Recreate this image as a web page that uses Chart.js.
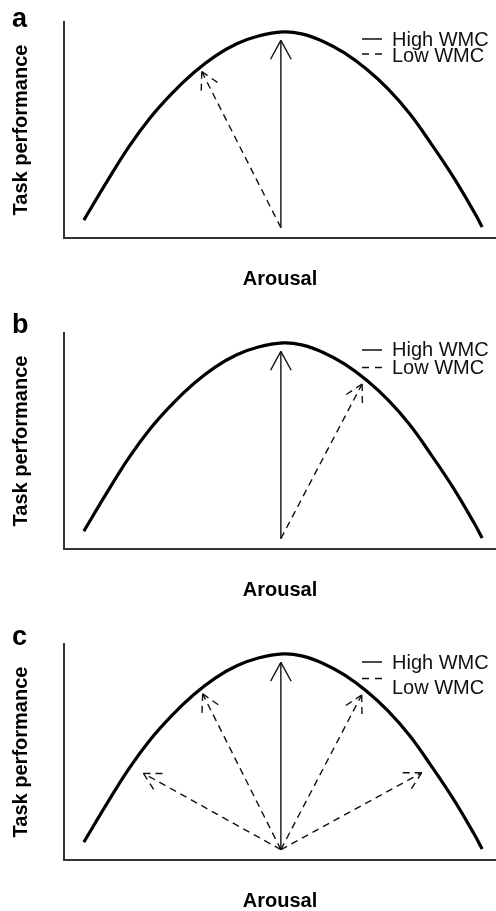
<!DOCTYPE html>
<html>
<head>
<meta charset="utf-8">
<script src="https://cdn.jsdelivr.net/npm/chart.js@4.4.1/dist/chart.umd.min.js"></script>
<style>
  html, body { margin: 0; padding: 0; background: #fff; overflow: hidden; }
  #page { position: relative; width: 496px; height: 911px; overflow: hidden; }
  .panel { position: absolute; left: 0; width: 496px; height: 311px; }
</style>
</head>
<body>
<div id="page">
  <div class="panel" style="top:0"><canvas id="chartA"></canvas></div>
  <div class="panel" style="top:311px"><canvas id="chartB"></canvas></div>
  <div class="panel" style="top:622px"><canvas id="chartC"></canvas></div>
</div>
<script>
// inverted-U curve (same in all three panels)
var curveX = [0.46, 1.0, 1.5, 2.0, 2.5, 3.0, 3.5, 4.0, 4.5, 5.07, 5.5, 6.0, 6.5, 7.0, 7.5, 8.0, 8.5, 9.0, 9.5, 9.68];
var curveY = [0.83, 2.63, 4.22, 5.58, 6.70, 7.65, 8.42, 8.99, 9.35, 9.54, 9.45, 9.10, 8.56, 7.82, 6.90, 5.76, 4.36, 2.86, 1.18, 0.51];

// every arrow starts from the same point at medium arousal
var arrowBase = [5.02, 0.48];
var highTip = [5.02, 9.15];
var lowTipsA = [[3.19, 7.70]];
var lowTipsB = [[6.90, 7.64]];
var lowTipsC = [[1.84, 4.01], [3.21, 7.69], [6.89, 7.64], [8.28, 4.04]];

var seriesLabels = ["High WMC", "Low WMC"];
var panelLetters = ["a", "b", "c"];
var xTitle = "Arousal";
var yTitle = "Task performance";

Chart.defaults.font.family = '"Liberation Sans", Arial, sans-serif';
Chart.defaults.color = "#000";

var arrowHeads = {
    id: "arrowHeads",
    afterDatasetsDraw: function (chart) {
        var ctx = chart.ctx;
        chart.data.datasets.forEach(function (ds, i) {
            if (i === 0) return;
            var pts = chart.getDatasetMeta(i).data;
            var from = pts[0], tip = pts[pts.length - 1];
            var ang = Math.atan2(from.y - tip.y, from.x - tip.x);
            var len = ds.borderDash ? 20 : 21.5;
            ctx.save();
            ctx.strokeStyle = ds.borderColor;
            ctx.lineWidth = ds.borderWidth;
            ctx.setLineDash(ds.borderDash || []);
            [-0.5, 0.5].forEach(function (d) {
                ctx.beginPath();
                ctx.moveTo(tip.x, tip.y);
                ctx.lineTo(tip.x + len * Math.cos(ang + d), tip.y + len * Math.sin(ang + d));
                ctx.stroke();
            });
            ctx.restore();
        });
    }
};

// panel letter + legend (line sample and label for High / Low WMC)
var panel = {
    id: "panel",
    afterDraw: function (chart, args, opts) {
        var ctx = chart.ctx;
        ctx.save();
        ctx.fillStyle = "#000";
        ctx.font = 'bold 27px "Liberation Sans", Arial, sans-serif';
        ctx.textBaseline = "alphabetic";
        ctx.fillText(opts.letter, 12, opts.letterY);

        ctx.font = '20px "Liberation Sans", Arial, sans-serif';
        ctx.textBaseline = "middle";
        [1, 2].forEach(function (di, k) {
            var ds = chart.data.datasets[di];
            ctx.strokeStyle = ds.borderColor;
            ctx.lineWidth = 1.5;
            ctx.setLineDash(ds.borderDash ? [7, 6] : []);
            ctx.beginPath();
            ctx.moveTo(362, opts.markerY[k]);
            ctx.lineTo(382, opts.markerY[k]);
            ctx.stroke();
            ctx.fillStyle = "#111";
            ctx.fillText(ds.label, 392, opts.textY[k]);
        });
        ctx.restore();
    }
};

function makeChart(canvasId, letter, lowTips, look) {
    var datasets = [{
        label: "curve",
        data: curveX.map(function (x, i) { return { x: x, y: curveY[i] }; }),
        borderColor: "#000",
        borderWidth: 3.2,
        pointRadius: 0,
        tension: 0.4
    }, {
        label: seriesLabels[0],
        data: [{ x: arrowBase[0], y: arrowBase[1] }, { x: highTip[0], y: highTip[1] }],
        borderColor: "#111",
        borderWidth: 1.4,
        pointRadius: 0
    }];
    lowTips.forEach(function (tip) {
        datasets.push({
            label: seriesLabels[1],
            data: [{ x: arrowBase[0], y: arrowBase[1] }, { x: tip[0], y: tip[1] }],
            borderColor: "#111",
            borderWidth: 1.4,
            borderDash: [7, 5],
            pointRadius: 0
        });
    });

    new Chart(document.getElementById(canvasId), {
        type: "line",
        data: { datasets: datasets },
        options: {
            responsive: true,
            maintainAspectRatio: false,
            animation: false,
            layout: { padding: { top: 22, right: 0, bottom: 0, left: 0 } },
            scales: {
                x: {
                    type: "linear", min: 0, max: 10,
                    ticks: { display: false },
                    grid: { display: false },
                    border: { display: true, color: "#333", width: 2 },
                    title: { display: true, text: xTitle, font: { size: 20, weight: "bold" }, padding: { top: 0, bottom: 20 } },
                    afterFit: function (s) { s.height = 73; }
                },
                y: {
                    type: "linear", min: 0, max: 10,
                    ticks: { display: false },
                    grid: { display: false },
                    border: { display: true, color: "#333", width: 2 },
                    title: { display: true, text: yTitle, font: { size: 20, weight: "bold" }, padding: { top: 9, bottom: 0 } },
                    afterFit: function (s) { s.width = 64; }
                }
            },
            plugins: {
                legend: { display: false },
                tooltip: { enabled: false },
                panel: { letter: letter, letterY: look.letterY, textY: look.textY, markerY: look.markerY }
            }
        },
        plugins: [arrowHeads, panel]
    });
}

makeChart("chartA", panelLetters[0], lowTipsA, { letterY: 27, textY: [40, 56], markerY: [39, 54] });
makeChart("chartB", panelLetters[1], lowTipsB, { letterY: 22, textY: [39, 57], markerY: [39, 56.5] });
makeChart("chartC", panelLetters[2], lowTipsC, { letterY: 23, textY: [41, 66], markerY: [40, 56.5] });
</script>
</body>
</html>
